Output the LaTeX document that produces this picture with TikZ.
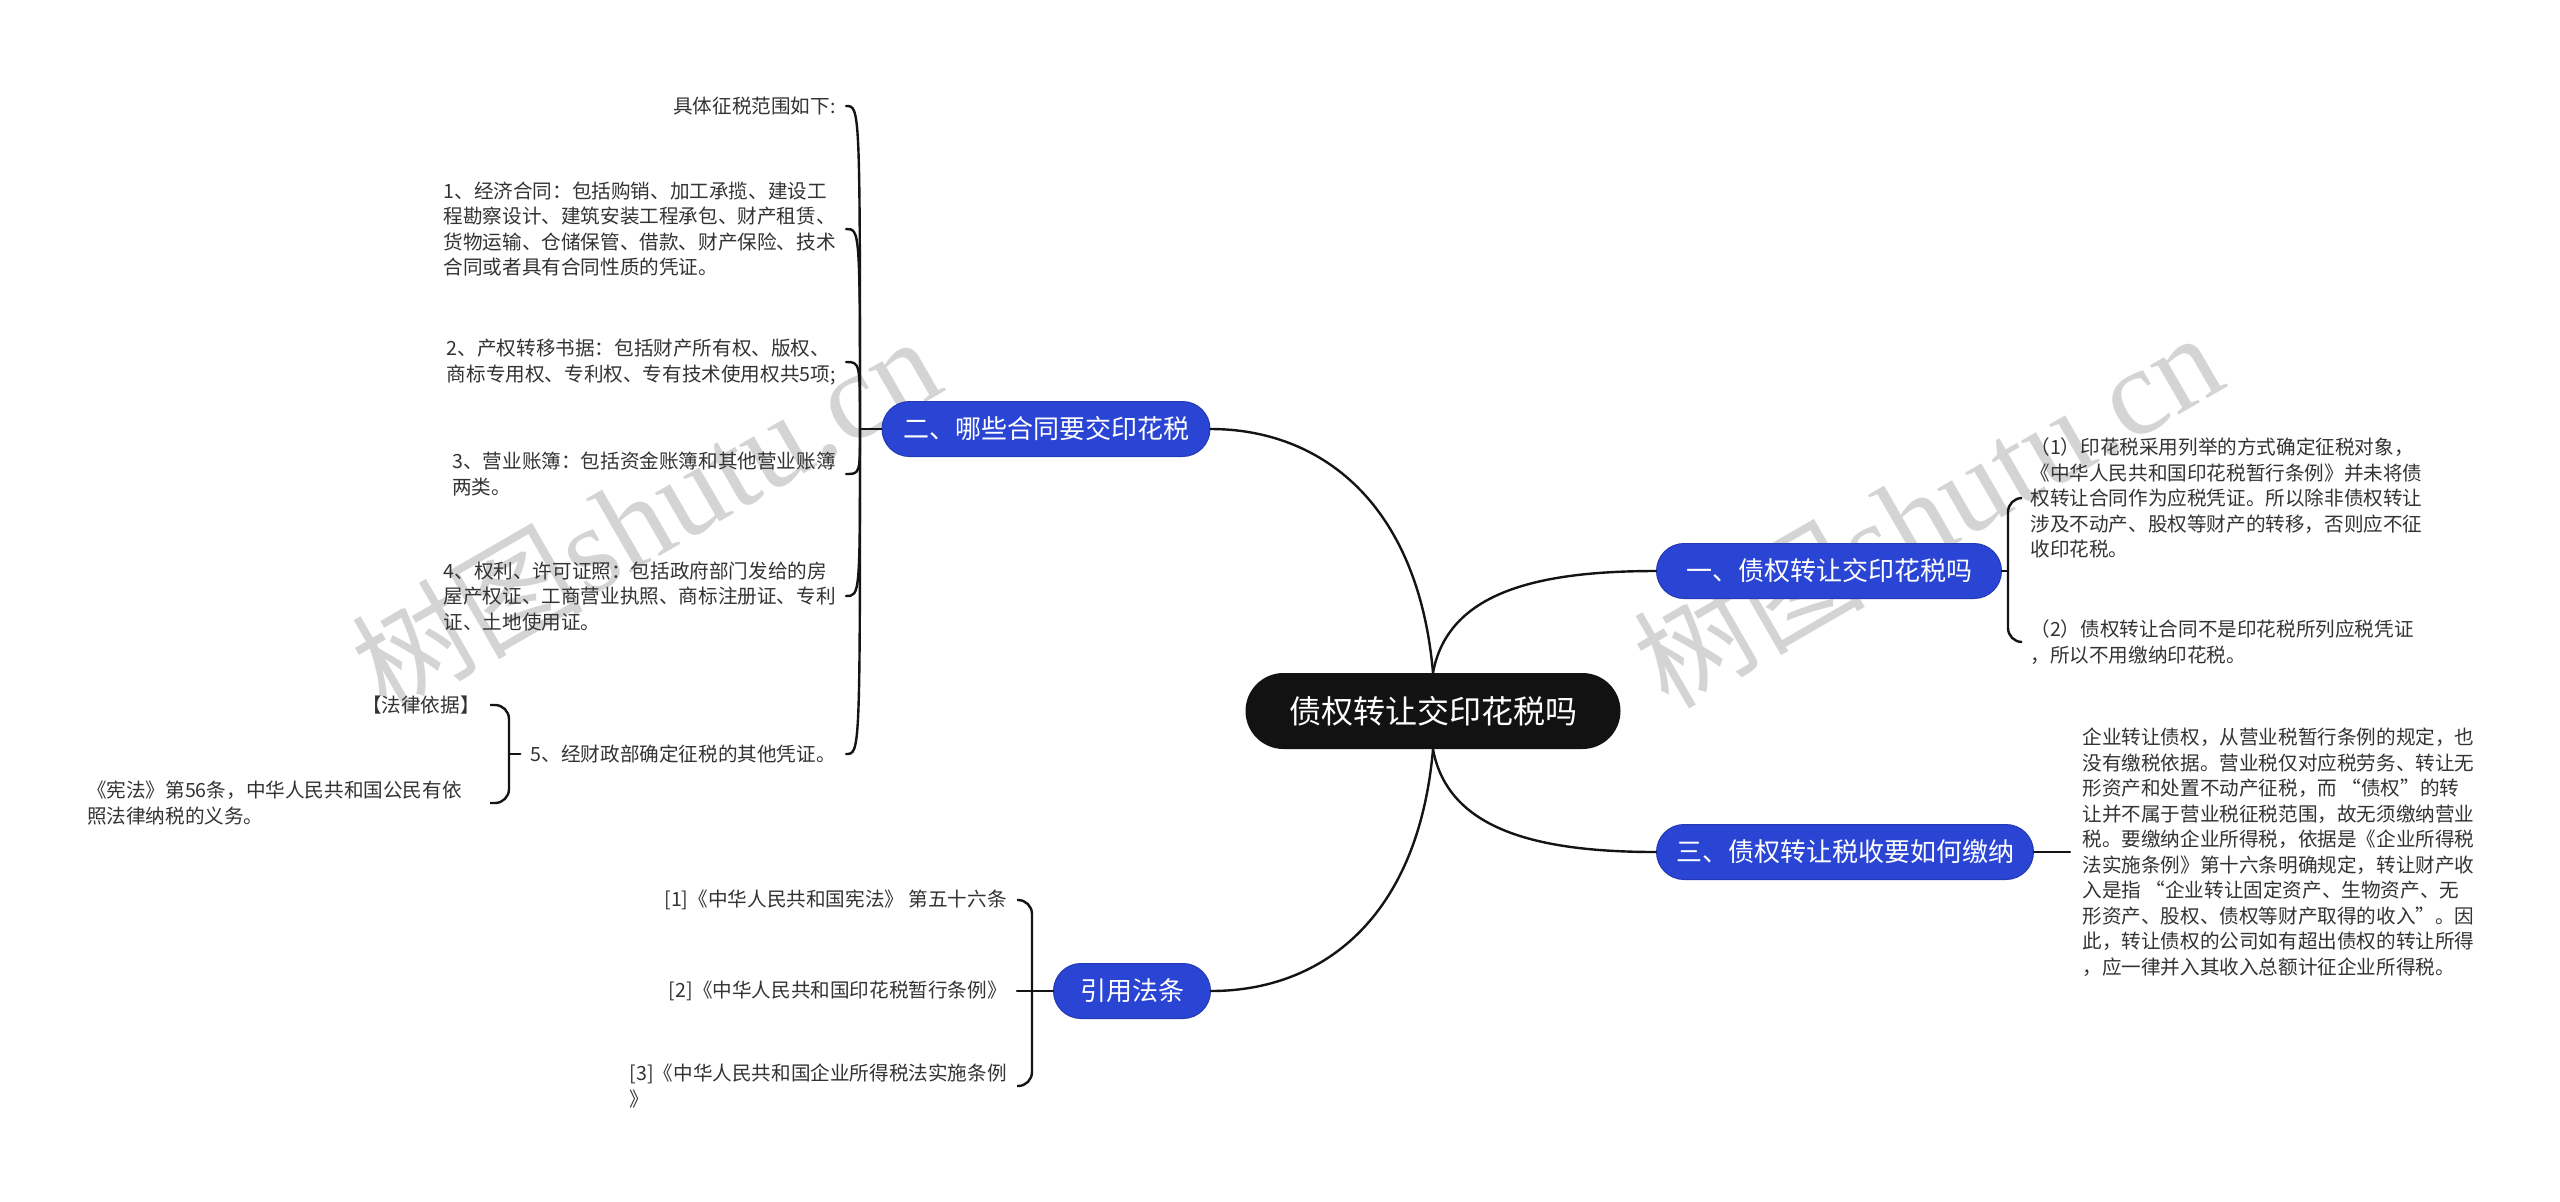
\documentclass[tikz,border=0pt]{standalone}
\usepackage{fontspec}
\newfontfamily\cjk{Noto Sans CJK SC}
\newfontfamily\wmserif{Liberation Serif}
\usetikzlibrary{calc}
\definecolor{nodeblue}{HTML}{2A44D4}
\definecolor{txt}{HTML}{333333}
\definecolor{wm}{HTML}{D4D4D4}
\begin{document}
\begin{tikzpicture}[x=0.5pt,y=-0.5pt,
  conn/.style={line width=1.2pt, draw=black!92, line cap=round},
  brace/.style={line width=1.2pt, draw=black!92, rounded corners=7pt},
  central/.style={rectangle, rounded corners=19pt, fill=black!93, text=white,
    font=\cjk\fontsize{16}{19}\selectfont, minimum width=187.5pt, minimum height=38pt, inner sep=0pt},
  branch/.style={rectangle, rounded corners=13.75pt, fill=nodeblue, draw=nodeblue!85!black,
    line width=0.5pt, text=white, font=\cjk\fontsize{13}{15}\selectfont,
    minimum height=27.5pt, inner sep=0pt},
  leaf/.style={font=\cjk\fontsize{9.8}{12.75}\selectfont, text=txt, align=left,
    inner xsep=5pt, inner ysep=2pt},
  watermark/.style={rotate=30, text=wm, inner sep=0pt}
]
\fill[white] (0,0) rectangle (2560,1201);
\useasboundingbox (0,0) rectangle (2560,1201);

% watermarks
\node[watermark] (wm1) at (645,514) {{\cjk\fontsize{58}{60}\selectfont 树图}{\wmserif\fontsize{62}{64}\selectfont shutu.cn}};
\node[watermark] (wm2) at (1927,510) {{\cjk\fontsize{58}{60}\selectfont 树图}{\wmserif\fontsize{62}{64}\selectfont shutu.cn}};

% central and branches
\node[central] (c) at (1433,711) {债权转让交印花税吗};
\node[branch, minimum width=172.5pt] (b1) at (1829,571) {一、债权转让交印花税吗};
\node[branch, minimum width=164pt] (b2) at (1046,429) {二、哪些合同要交印花税};
\node[branch, minimum width=188.5pt] (b3) at (1845,852) {三、债权转让税收要如何缴纳};
\node[branch, minimum width=78.5pt] (b4) at (1132,991) {引用法条};

\draw[conn] (c.north) .. controls +(-15,-170) and +(110,0) .. (b2.east);
\draw[conn] (c.north) .. controls +(15,-80) and +(-120,0) .. (b1.west);
\draw[conn] (c.south) .. controls +(15,80) and +(-120,0) .. (b3.west);
\draw[conn] (c.south) .. controls +(-15,170) and +(110,0) .. (b4.east);

% branch 2 children
\node[leaf, anchor=east] (c0) at (846,106) {具体征税范围如下:};
\node[leaf, anchor=east] (c1) at (846,229) {1、经济合同：包括购销、加工承揽、建设工\\程勘察设计、建筑安装工程承包、财产租赁、\\货物运输、仓储保管、借款、财产保险、技术\\合同或者具有合同性质的凭证。};
\node[leaf, anchor=east] (c2) at (846,362) {2、产权转移书据：包括财产所有权、版权、\\商标专用权、专利权、专有技术使用权共5项;};
\node[leaf, anchor=east] (c3) at (846,474) {3、营业账簿：包括资金账簿和其他营业账簿\\两类。};
\node[leaf, anchor=east] (c4) at (846,596) {4、权利、许可证照：包括政府部门发给的房\\屋产权证、工商营业执照、商标注册证、专利\\证、土地使用证。};
\node[leaf, anchor=east] (c5) at (846,754) {5、经财政部确定征税的其他凭证。};

\coordinate (j2) at (860,429);
\draw[conn] (b2.west) -- (j2);
\foreach \n in {c0,c1,c2,c3,c4,c5}{
  \draw[conn] (j2) .. controls (j2 |- \n) .. (\n.east);
}

% item 5 children
\node[leaf, anchor=east] (law) at (490,705) {【法律依据】};
\node[leaf, anchor=east, inner xsep=14pt] (xf) at (490,803) {《宪法》第56条，中华人民共和国公民有依\\照法律纳税的义务。};
\coordinate (j5) at (509,754);
\draw[conn] (c5.west) -- (j5);
\draw[brace] (j5) |- (law.east);
\draw[brace] (j5) |- (xf.east);

% branch 1 children
\node[leaf, anchor=west] (d1) at (2020,498) {（1）印花税采用列举的方式确定征税对象，\\《中华人民共和国印花税暂行条例》并未将债\\权转让合同作为应税凭证。所以除非债权转让\\涉及不动产、股权等财产的转移，否则应不征\\收印花税。};
\node[leaf, anchor=west] (d2) at (2020,642) {（2）债权转让合同不是印花税所列应税凭证\\，所以不用缴纳印花税。};
\coordinate (j1) at (2008,571);
\draw[conn] (b1.east) -- (j1);
\draw[brace] (j1) |- (d1.west);
\draw[brace] (j1) |- (d2.west);

% branch 3 child
\node[leaf, anchor=west, inner xsep=6pt] (e1) at (2070,852) {企业转让债权，从营业税暂行条例的规定，也\\没有缴税依据。营业税仅对应税劳务、转让无\\形资产和处置不动产征税，而 “债权”的转\\让并不属于营业税征税范围，故无须缴纳营业\\税。要缴纳企业所得税，依据是《企业所得税\\法实施条例》第十六条明确规定，转让财产收\\入是指 “企业转让固定资产、生物资产、无\\形资产、股权、债权等财产取得的收入”。因\\此，转让债权的公司如有超出债权的转让所得\\，应一律并入其收入总额计征企业所得税。};
\draw[conn] (b3.east) -- (e1.west);

% branch 4 children
\node[leaf, anchor=east] (f1) at (1017,900) {[1]《中华人民共和国宪法》 第五十六条};
\node[leaf, anchor=east] (f2) at (1017,991) {[2]《中华人民共和国印花税暂行条例》};
\node[leaf, anchor=east] (f3) at (1017,1086) {[3]《中华人民共和国企业所得税法实施条例\\》};
\coordinate (j4) at (1032,991);
\draw[conn] (b4.west) -- (j4);
\draw[brace] (j4) |- (f1.east);
\draw[conn] (j4) -- (f2.east);
\draw[brace] (j4) |- (f3.east);
\end{tikzpicture}
\end{document}
